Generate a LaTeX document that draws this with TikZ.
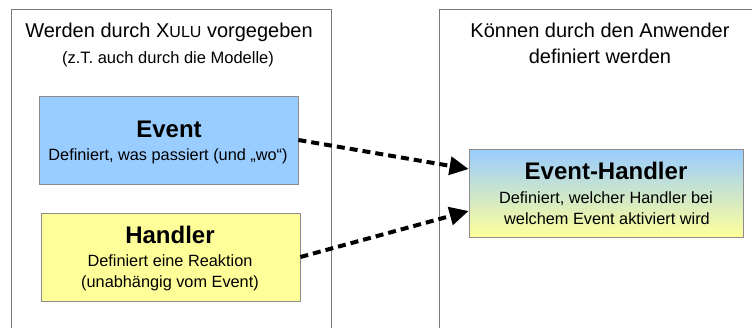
\documentclass[tikz,border=0pt]{standalone}
\usepackage{fontspec}
\setmainfont{Liberation Sans}
\usetikzlibrary{arrows.meta}
\definecolor{evblue}{HTML}{99CCFF}
\definecolor{hdyellow}{HTML}{FFFF99}
\definecolor{framegray}{HTML}{7A7A7A}
\definecolor{boxgray}{HTML}{8C8C8C}
\tikzset{
  panel/.style={draw=framegray, line width=1pt},
  box/.style={draw=boxgray, line width=0.8pt, minimum width=259pt, minimum height=88pt, inner sep=0pt},
  heading/.style={anchor=base, font=\fontsize{20}{24}\selectfont, inner sep=0pt},
  subhead/.style={anchor=base, font=\fontsize{16.5}{20}\selectfont, inner sep=0pt},
  boxtitle/.style={anchor=base, font=\fontsize{24}{28}\selectfont\bfseries, inner sep=0pt},
  boxtext/.style={anchor=base, font=\fontsize{16.3}{20}\selectfont, inner sep=0pt},
  link/.style={line width=4pt, dash pattern=on 8pt off 5pt, -{Triangle[length=19pt,width=18pt]}}
}
\begin{document}
\begin{tikzpicture}[x=1pt,y=-1pt]
\useasboundingbox (0,0) rectangle (752,327);
\clip (0,0) rectangle (752,327);

% two columns, open at the bottom and on the right
\draw[panel] (11,340) -- (11,9) -- (331,9) -- (331,340);
\draw[panel] (439,340) -- (439,9) -- (770,9);

% column headings
\node[heading] (lhead) at (169,37) {Werden durch X{\fontsize{16}{20}\selectfont ULU} vorgegeben};
\node[subhead] (lsub) at (168,63) {(z.T. auch durch die Modelle)};
\node[heading] (rhead1) at (600,37) {Können durch den Anwender};
\node[heading] (rhead2) at (600,63) {definiert werden};

% boxes
\node[box, fill=evblue] (ev) at (168.5,140) {};
\node[box, fill=hdyellow] (hd) at (170.5,257) {};
\node[box, minimum width=274pt, top color=evblue, bottom color=hdyellow] (eh) at (606,193) {};

% box texts
\node[boxtitle] (evt) at (169,137) {Event};
\node[boxtext] (evd) at (168,160.5) {Definiert, was passiert (und „wo“)};
\node[boxtitle] (hdt) at (170,243.5) {Handler};
\node[boxtext] (hdd1) at (170,266) {Definiert eine Reaktion};
\node[boxtext] (hdd2) at (170,287) {(unabhängig vom Event)};
\node[boxtitle] (eht) at (606,179) {Event-Handler};
\node[boxtext] (ehd1) at (606,203) {Definiert, welcher Handler bei};
\node[boxtext] (ehd2) at (607,224) {welchem Event aktiviert wird};

% connectors
\draw[link] (ev.east) -- ([yshift=24pt]eh.west);
\draw[link] (hd.east) -- ([yshift=-18pt]eh.west);
\end{tikzpicture}
\end{document}
